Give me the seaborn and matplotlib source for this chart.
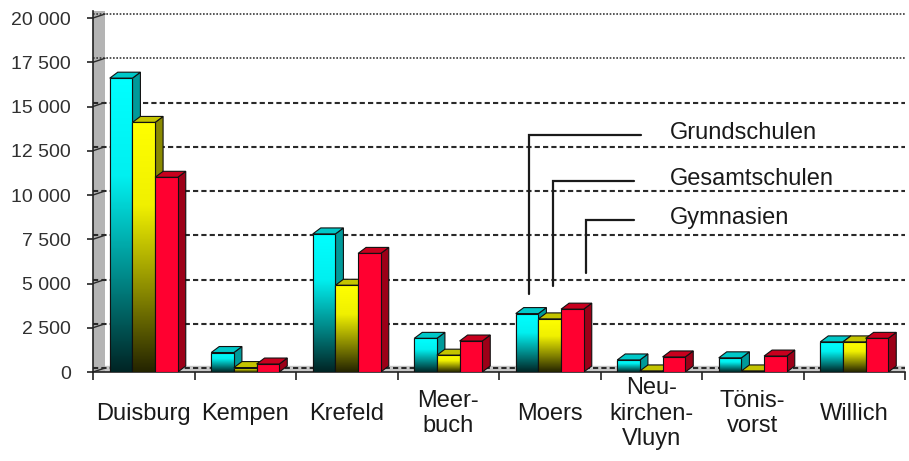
import numpy as np
import pandas as pd
import matplotlib
matplotlib.use("Agg")
import matplotlib.pyplot as plt
import seaborn as sns
from matplotlib.colors import LinearSegmentedColormap
from matplotlib.patches import Polygon, Rectangle
from matplotlib.ticker import FuncFormatter

# ----- DATA -----
cities = ["Duisburg", "Kempen", "Krefeld", "Meer-\nbuch", "Moers",
          "Neu-\nkirchen-\nVluyn", "Tönis-\nvorst", "Willich"]
schulformen = ["Grundschulen", "Gesamtschulen", "Gymnasien"]
grundschulen = [16600, 1100, 7800, 1900, 3300, 680, 800, 1700]
gesamtschulen = [14100, 250, 4900, 950, 3000, 60, 60, 1700]
gymnasien = [11000, 450, 6700, 1750, 3550, 850, 900, 1900]
yticks = [0, 2500, 5000, 7500, 10000, 12500, 15000, 17500, 20000]

df = pd.DataFrame({
    "Stadt": cities * 3,
    "Schulform": np.repeat(schulformen, len(cities)),
    "Schueler": grundschulen + gesamtschulen + gymnasien,
})

# ----- STYLE -----
front_colors = ["#00ffff", "#ffff00", "#ff0030"]
side_colors = ["#009a9a", "#8a8a00", "#9c0018"]
top_colors = ["#00c8c8", "#c4c400", "#c8001e"]
gradients = [
    LinearSegmentedColormap.from_list("cy", ["#002424", "#008c8c", "#00f0f0", "#00ffff"], N=256),
    LinearSegmentedColormap.from_list("ye", ["#242400", "#8c8c00", "#f0f000", "#ffff00"], N=256),
    None,
]

sns.set_style("white")
plt.rcParams["font.family"] = ["Liberation Sans", "DejaVu Sans"]

W, H = 909, 461
y0_px, y20k_px = 372, 18
px_per_unit = (y0_px - y20k_px) / 20000
ytop = 20400
top_px = y0_px - ytop * px_per_unit

fig = plt.figure(figsize=(W / 100, H / 100), dpi=100)
ax = fig.add_axes([93 / W, (H - y0_px) / H, 812 / W, (y0_px - top_px) / H])

sns.barplot(data=df, x="Stadt", y="Schueler", hue="Schulform", hue_order=schulformen,
            palette=front_colors, saturation=1, width=0.67, errorbar=None,
            edgecolor="#111111", linewidth=0.8, legend=False, ax=ax)

ax.set_xlim(-0.5, 7.5)
ax.set_ylim(0, ytop)

# 3D offsets (in data units)
dx = 8 / 101.5
dy = 6 / px_per_unit
grid_dy = 4 / px_per_unit

# ----- 3D BARS: side, top and gradient front -----
grad = np.linspace(0, 1, 256).reshape(-1, 1)
for k, cont in enumerate(ax.containers):
    for bar in cont:
        x, w, h = bar.get_x(), bar.get_width(), bar.get_height()
        z = 3 + x * 0.1
        bar.set_zorder(z + 0.03)
        side = Polygon([(x + w, 0), (x + w + dx, dy), (x + w + dx, h + dy), (x + w, h)],
                       closed=True, facecolor=side_colors[k], edgecolor="#111111",
                       linewidth=0.8, zorder=z + 0.01)
        top = Polygon([(x, h), (x + w, h), (x + w + dx, h + dy), (x + dx, h + dy)],
                      closed=True, facecolor=top_colors[k], edgecolor="#111111",
                      linewidth=0.8, zorder=z + 0.02)
        ax.add_patch(side)
        ax.add_patch(top)
        if gradients[k] is not None and h > 0:
            im = ax.imshow(grad, extent=(x, x + w, 0, h), origin="lower", aspect="auto",
                           cmap=gradients[k], zorder=z + 0.035)
            im.set_clip_path(bar)
            ax.add_patch(Rectangle((x, 0), w, h, fill=False, edgecolor="#111111",
                                   linewidth=0.8, zorder=z + 0.04))

ax.set_xlim(-0.5, 7.5)
ax.set_ylim(0, ytop)

# ----- BACK WALL / FLOOR / GRID -----
wall_w = 12 / 101.5
ax.add_patch(Rectangle((-0.5, 0), wall_w, ytop, facecolor="#b4b4b4",
                       edgecolor="none", zorder=0.5))
ax.axhspan(0, dy, color="#c8c8c8", zorder=0.4)
for v in yticks:
    if v <= 15000:
        ax.axhline(v + grid_dy, color="#2a2a2a", lw=1.5, ls=(0, (2.5, 1.5)), zorder=0.8)
    else:
        ax.axhline(v + grid_dy, color="#3a3a3a", lw=1.2, ls=(0, (1, 1)), zorder=0.8)
    ax.plot([-0.5, -0.5 + wall_w], [v, v + grid_dy], color="#2a2a2a", lw=1, zorder=0.9)

# ----- AXES AND TICKS -----
for s in ["top", "right"]:
    ax.spines[s].set_visible(False)
for s in ["left", "bottom"]:
    ax.spines[s].set_color("#222222")
    ax.spines[s].set_linewidth(1.2)

ax.set_yticks(yticks)
ax.yaxis.set_major_formatter(FuncFormatter(lambda v, p: f"{v:,.0f}".replace(",", " ")))
ax.tick_params(axis="y", left=True, length=4, width=1.2, color="#222222",
               pad=12, labelsize=14, labelcolor="#303030")
ax.set_xticks(range(len(cities)))
ax.set_xticklabels(cities, va="center", ha="center", multialignment="center")
ax.set_xticks(np.arange(-0.5, 8, 1), minor=True)
ax.tick_params(axis="x", which="major", length=0, pad=30, labelsize=17, labelcolor="#1a1a1a")
ax.tick_params(axis="x", which="minor", bottom=True, length=6, width=1.2, color="#222222")
ax.set_xlabel("")
ax.set_ylabel("")

# ----- LEGEND as leader lines to the Moers bars -----
moers = cities.index("Moers")
leader_bottom = [4400, 4850, 5600]
leader_y = [13400, 10800, 8600]
leader_xend = [4.90, 4.83, 4.83]
leader_shift = [0.02, 0.03, 0.13]
text_x = 5.18
for k, name in enumerate(schulformen):
    bar = ax.containers[k][moers]
    xc = bar.get_x() + bar.get_width() / 2 + leader_shift[k]
    ax.plot([xc, xc, leader_xend[k]], [leader_bottom[k], leader_y[k], leader_y[k]],
            color="#1a1a1a", lw=1.6, zorder=6, solid_joinstyle="miter")
    ax.text(text_x, leader_y[k] + 100, name, fontsize=17, color="#1a1a1a",
            ha="left", va="center", zorder=6)

fig.savefig("out.png", dpi=100)
